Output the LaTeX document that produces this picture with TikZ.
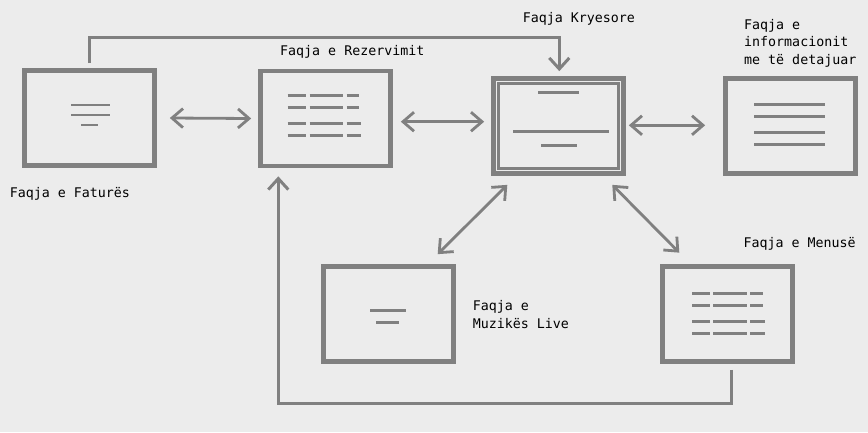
\documentclass[tikz,border=0pt]{standalone}
\usepackage{fontspec}
\setmonofont{DejaVu Sans Mono}
\usetikzlibrary{arrows.meta}

\definecolor{bggray}{RGB}{236,236,236}
\definecolor{linegray}{RGB}{128,128,128}

\tikzset{
    screen/.style={draw=linegray, line width=4.7pt, minimum width=130pt, minimum height=95pt, inner sep=0pt},
    bar/.style={linegray, line width=2.7pt},
    link/.style={linegray, line width=2.8pt, {Straight Barb[length=11pt,width=19pt]}-{Straight Barb[length=11pt,width=19pt]}},
    route/.style={linegray, line width=3pt, -{Straight Barb[length=11pt,width=20pt]}},
    pagename/.style={font=\ttfamily\fontsize{13.3}{17.5}\selectfont, text=black, inner sep=0pt, align=left, anchor=base west}
}

\begin{document}
\begin{tikzpicture}[x=1pt, y=-1pt]
    % Background and page size
    \fill[bggray] (0,0) rectangle (868,432);
    \useasboundingbox (0,0) rectangle (868,432);

    % The six pages
    \node[screen] (fatura) at (89.5,118) {};
    \node[screen] (rezervim) at (325.5,118.5) {};
    \node[screen] (kryesore) at (558.5,125.7) {};
    \node[screen] (info) at (790.5,126) {};
    \node[screen] (muzika) at (388.3,313.7) {};
    \node[screen] (menu) at (727.3,313.8) {};

    % Second border of the main page
    \draw[linegray, line width=2.7pt] ([shift={(7.5,7.4)}]kryesore.north west) rectangle ([shift={(-7.5,-7.4)}]kryesore.south east);

    % Lines of text inside the pages
    \begin{scope}[shift={(fatura.center)}]
        \draw[bar] (-18.5,-13) -- (20.5,-13) (-18.5,-3) -- (20.5,-3);
        \draw[bar] (-8.5,7) -- (8.5,7);
    \end{scope}
    \begin{scope}[shift={(rezervim.center)}]
        \foreach \y/\r in {-22.8/33.5, -11.2/33.5, 4.8/35.5, 16.8/35.5}
            \draw[bar] (-38,\y) -- (-19.5,\y) (-16,\y) -- (17,\y) (21,\y) -- (\r,\y);
    \end{scope}
    \begin{scope}[shift={(kryesore.center)}]
        \draw[bar] (-20.5,-33.4) -- (20.5,-33.4);
        \draw[bar] (-45.5,5.6) -- (50.5,5.6);
        \draw[bar] (-17.5,19.6) -- (18.5,19.6);
    \end{scope}
    \begin{scope}[shift={(info.center)}]
        \foreach \y in {-21.7, -9.7, 6.3, 18.3}
            \draw[bar] (-36.5,\y) -- (34.5,\y);
    \end{scope}
    \begin{scope}[shift={(muzika.center)}]
        \draw[bar] (-18.3,-3.4) -- (17.7,-3.4);
        \draw[bar] (-12.3,8.6) -- (10.7,8.6);
    \end{scope}
    \begin{scope}[shift={(menu.center)}]
        \foreach \y/\r in {-20.5/36, -8.5/36, 7.5/37.7, 19.5/37.7}
            \draw[bar] (-35.3,\y) -- (-17.3,\y) (-14,\y) -- (19.7,\y) (22.7,\y) -- (\r,\y);
    \end{scope}

    % Page names (multi-line ones sit on their last line)
    \node[pagename] (tfatura) at (9.7,197) {Faqja e Faturës};
    \node[pagename] (trezervim) at (280,55) {Faqja e Rezervimit};
    \node[pagename] (tkryesore) at (522.7,22) {Faqja Kryesore};
    \node[pagename] (tinfo) at (744,64.3) {Faqja e\\informacionit\\me të detajuar};
    \node[pagename] (tmuzika) at (472.7,328) {Faqja e\\Muzikës Live};
    \node[pagename] (tmenu) at (743.3,247) {Faqja e Menusë};

    % Links between pages
    \draw[link] ([xshift=13pt]fatura.east) -- ([xshift=-7pt]rezervim.west);
    \draw[link] ([xshift=8pt,yshift=-3.2pt]rezervim.east) -- ([xshift=-7pt,yshift=4pt]kryesore.west);
    \draw[link] ([xshift=3pt,yshift=0.4pt]kryesore.east) -- ([xshift=-18pt,yshift=0.7pt]info.west);
    \draw[link] ([shift={(-51.2,9.3)}]kryesore.south) -- ([shift={(49.4,-9.7)}]muzika.north);
    \draw[link] ([shift={(53.8,9.3)}]kryesore.south) -- ([shift={(-48,-11.3)}]menu.north);

    % Routes around the pages
    \draw[route] ([yshift=5pt]fatura.north) -- ++(0,-26) -| ([shift={(0.8,-4.7)}]kryesore.north);
    \draw[route] ([shift={(4,6.3)}]menu.south) -- ++(0,33.3) -| ([shift={(-47.2,8)}]rezervim.south);
\end{tikzpicture}
\end{document}
